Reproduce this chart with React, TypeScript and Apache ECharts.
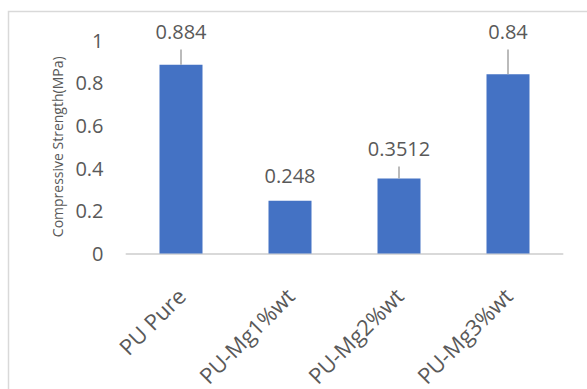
import React, { useEffect, useRef } from "react";
import * as echarts from "echarts";

const categories = ["PU Pure", "PU-Mg1%wt", "PU-Mg2%wt", "PU-Mg3%wt"];
const strengths = [0.884, 0.248, 0.3512, 0.84];
const errors = [0.072, 0, 0.057, 0.116];
const yTicks = [0, 0.2, 0.4, 0.6, 0.8, 1];

const TEXT = "#595959";
const FONT = "Open Sans";

export default function App() {
  const ref = useRef<HTMLDivElement>(null);
  useEffect(() => {
    if (!ref.current) return;
    const chart = echarts.init(ref.current, undefined, { renderer: "svg" });
    const pxPerUnit = 214;
    const option: any = {
      animation: false,
      backgroundColor: "#ffffff",
      textStyle: { fontFamily: FONT },
      graphic: [
        {
          type: "rect",
          shape: { x: 8.5, y: 11.5, width: 620, height: 420 },
          style: { fill: "none", stroke: "#d9d9d9", lineWidth: 1.5 },
          silent: true,
        },
      ],
      grid: { left: 126.5, right: 24.5, top: 40, bottom: 135 },
      xAxis: {
        type: "category",
        data: categories,
        axisLine: { lineStyle: { color: "#d9d9d9", width: 2 } },
        axisTick: { show: false },
        axisLabel: {
          rotate: 45,
          color: TEXT,
          fontSize: 22,
          fontFamily: FONT,
          margin: 38,
          interval: 0,
        },
      },
      yAxis: {
        type: "value",
        min: yTicks[0],
        max: yTicks[yTicks.length - 1],
        interval: 0.2,
        splitLine: { show: false },
        axisLine: { show: false },
        axisTick: { show: false },
        axisLabel: { color: TEXT, fontSize: 20, fontFamily: FONT, margin: 23 },
        name: "Compressive Strength(MPa)",
        nameLocation: "middle",
        nameRotate: 90,
        nameGap: 62,
        nameTextStyle: { color: TEXT, fontSize: 14, fontFamily: FONT },
      },
      series: [
        {
          type: "bar",
          barWidth: 43,
          itemStyle: { color: "#4472C4" },
          data: strengths.map((v, i) => ({
            value: v,
            label: {
              show: true,
              position: "top",
              distance: Math.max(errors[i] * pxPerUnit + 7.5, 15),
              color: TEXT,
              fontSize: 20,
              fontFamily: FONT,
            },
          })),
        },
        {
          type: "custom",
          silent: true,
          z: 3,
          data: strengths.map((v, i) => [i, v, v + errors[i]]),
          renderItem: (params: any, api: any) => {
            const b = api.coord([api.value(0), api.value(1)]);
            const t = api.coord([api.value(0), api.value(2)]);
            if (Math.abs(b[1] - t[1]) < 0.5) return { type: "group", children: [] };
            return {
              type: "line",
              shape: { x1: b[0], y1: b[1], x2: t[0], y2: t[1] },
              style: { stroke: "#a5a5a5", lineWidth: 1.5 },
            };
          },
        },
      ],
    };
    chart.setOption(option);
    return () => chart.dispose();
  }, []);
  return (
    <div
      ref={ref}
      style={{ position: "fixed", left: 0, top: 0, width: 587, height: 389 }}
    />
  );
}
